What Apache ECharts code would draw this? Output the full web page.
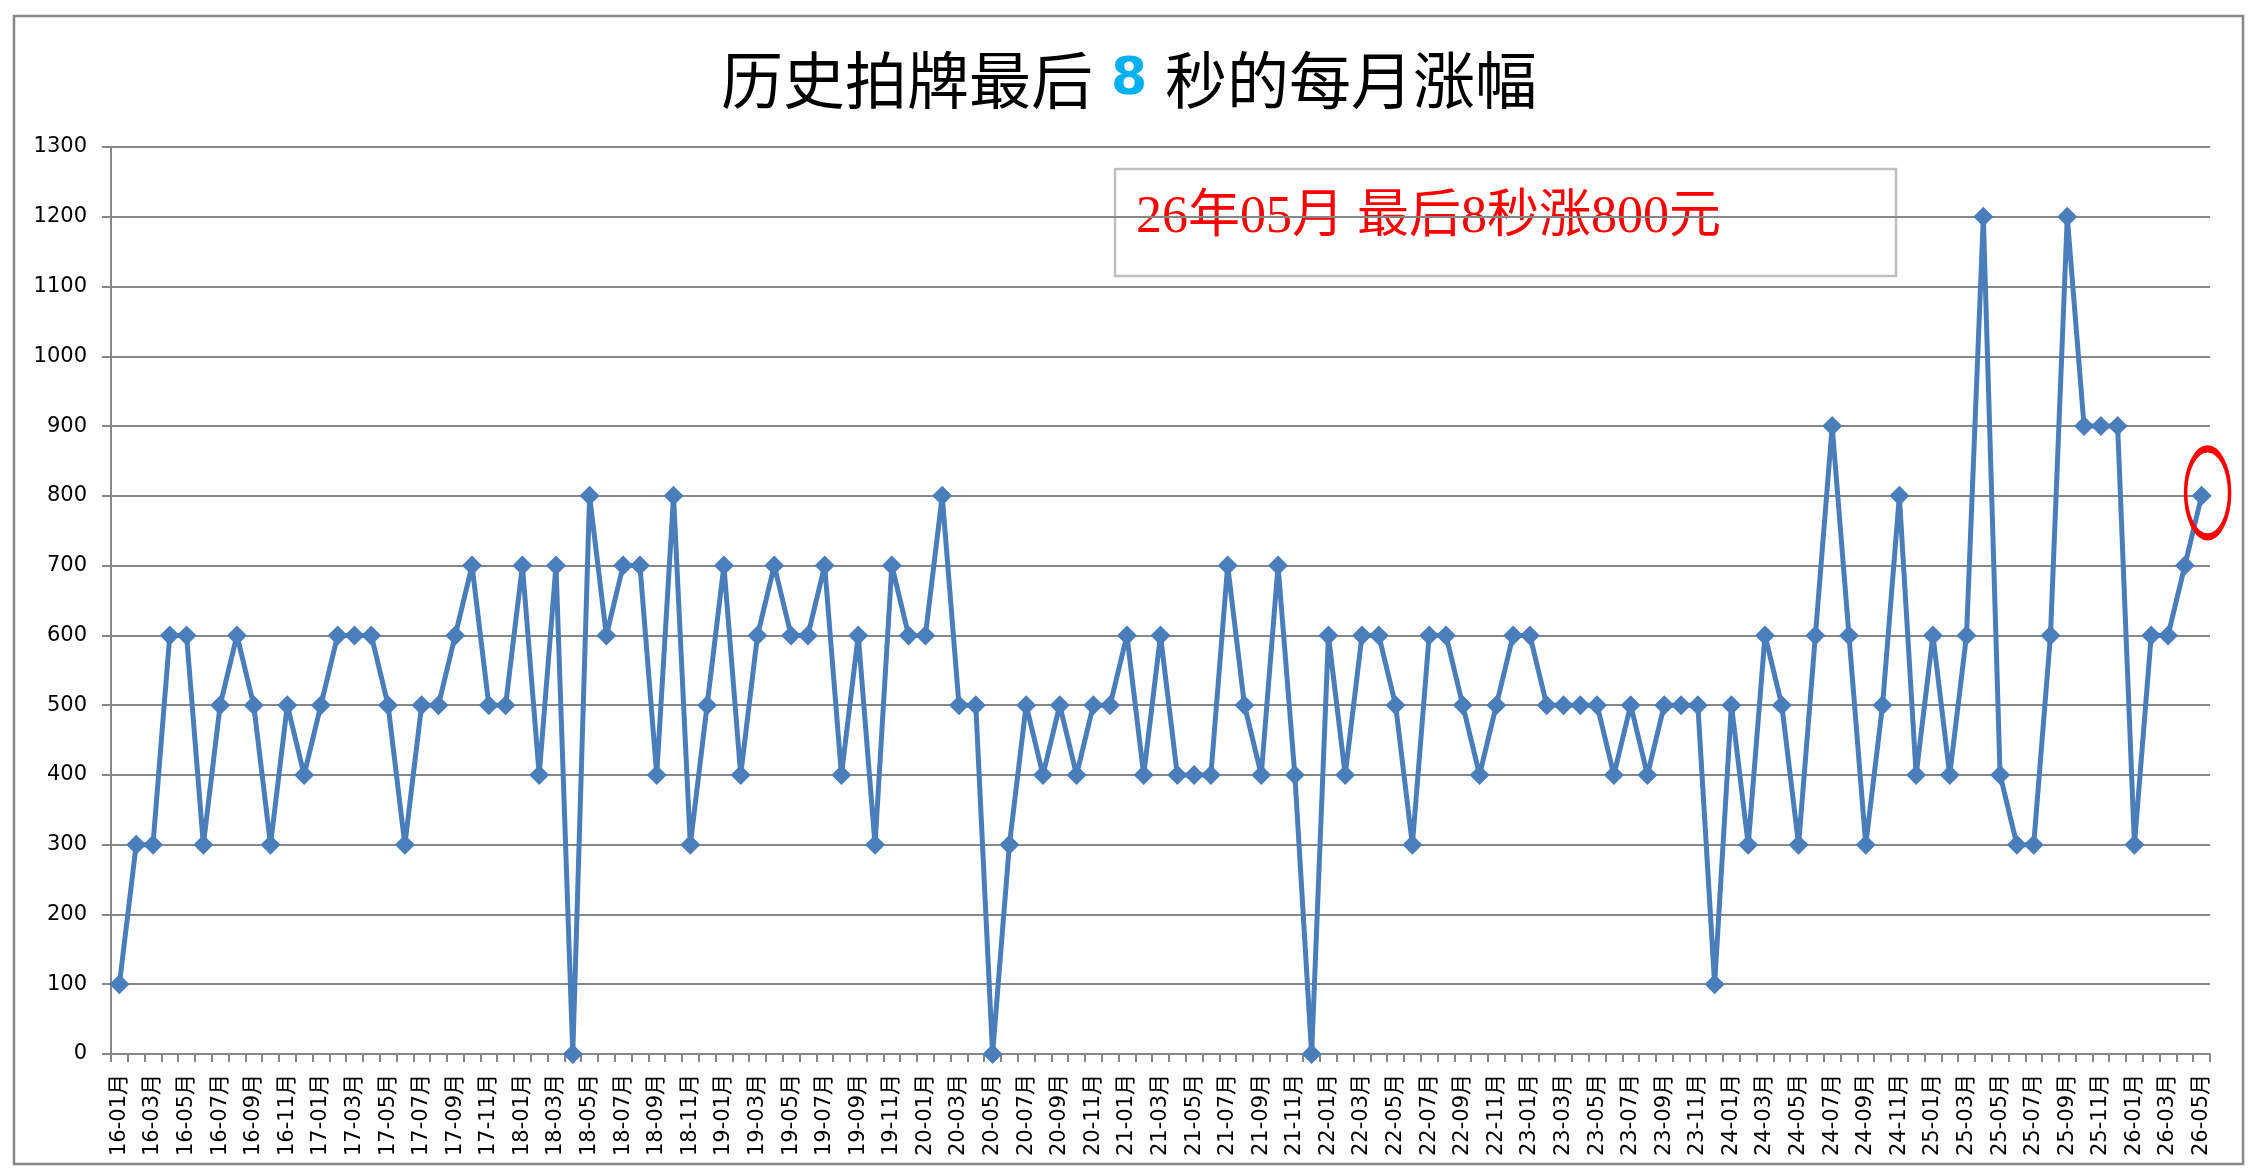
<!DOCTYPE html>
<html>
<head>
<meta charset="utf-8">
<title>历史拍牌最后8秒的每月涨幅</title>
<script src="https://cdn.jsdelivr.net/npm/echarts@6/dist/echarts.min.js"></script>
<style>
html, body { margin: 0; padding: 0; background: #fff; }
#chart { width: 2258px; height: 1176px; }
</style>
</head>
<body>
<div id="chart"></div>
<script>
// 年份 / 月份，用来拼横轴标签 "16-01月"
const years = ['16', '17', '18', '19', '20', '21', '22', '23', '24', '25', '26']
const months = ['01', '02', '03', '04', '05', '06', '07', '08', '09', '10', '11', '12']

// 每年各月最后8秒涨幅（元）
const v16 = [100, 300, 300, 600, 600, 300, 500, 600, 500, 300, 500, 400]
const v17 = [500, 600, 600, 600, 500, 300, 500, 500, 600, 700, 500, 500]
const v18 = [700, 400, 700, 0, 800, 600, 700, 700, 400, 800, 300, 500]
const v19 = [700, 400, 600, 700, 600, 600, 700, 400, 600, 300, 700, 600]
const v20 = [600, 800, 500, 500, 0, 300, 500, 400, 500, 400, 500, 500]
const v21 = [600, 400, 600, 400, 400, 400, 700, 500, 400, 700, 400, 0]
const v22 = [600, 400, 600, 600, 500, 300, 600, 600, 500, 400, 500, 600]
const v23 = [600, 500, 500, 500, 500, 400, 500, 400, 500, 500, 500, 100]
const v24 = [500, 300, 600, 500, 300, 600, 900, 600, 300, 500, 800, 400]
const v25 = [600, 400, 600, 1200, 400, 300, 300, 600, 1200, 900, 900, 900]
const v26 = [300, 600, 600, 700, 800]

const yTicks = { min: 0, max: 1300, step: 100 }
const noteText = '26年05月 最后8秒涨800元'

const valuesByYear = [v16, v17, v18, v19, v20, v21, v22, v23, v24, v25, v26]
let categories = []
let values = []
valuesByYear.forEach((arr, i) => {
  arr.forEach((v, m) => {
    categories.push(`${years[i]}-${months[m]}月`)
    values.push(v)
  })
})

const lastCat = categories[categories.length - 1]
const lastVal = values[values.length - 1]

const gray = '#878787'
const blue = '#4A7EBB'

let chart = echarts.init(document.getElementById('chart'))

let option = {
  backgroundColor: '#ffffff',
  animation: false,
  title: {
    left: 'center',
    top: 44,
    text: '{a|历史拍牌最后}{b|8}{a|秒的每月涨幅}',
    textStyle: {
      rich: {
        a: {
          fontSize: 62,
          fontFamily: '"Noto Sans CJK SC", sans-serif',
          color: '#000',
          fontWeight: 'normal'
        },
        b: {
          fontSize: 52,
          fontFamily: '"DejaVu Sans", sans-serif',
          fontWeight: 'bold',
          color: '#00B0F0',
          padding: [0, 18, 0, 18]
        }
      }
    }
  },
  grid: {
    left: 111,
    right: 48,
    top: 147,
    bottom: 122,
    containLabel: false
  },
  xAxis: {
    type: 'category',
    data: categories,
    boundaryGap: true,
    axisLine: { lineStyle: { color: gray, width: 2 } },
    axisTick: {
      show: true,
      interval: 0,
      length: 8,
      lineStyle: { color: gray, width: 2 }
    },
    axisLabel: {
      interval: 1,
      rotate: 90,
      margin: 20,
      fontSize: 21,
      fontFamily: '"DejaVu Sans", "Noto Sans CJK SC", sans-serif',
      color: '#000'
    },
    splitLine: { show: false }
  },
  yAxis: {
    type: 'value',
    min: yTicks.min,
    max: yTicks.max,
    interval: yTicks.step,
    axisLine: { show: true, lineStyle: { color: gray, width: 2 } },
    axisTick: { show: true, length: 9, lineStyle: { color: gray, width: 2 } },
    axisLabel: {
      margin: 24,
      fontSize: 21,
      fontFamily: '"DejaVu Sans", sans-serif',
      color: '#000',
      formatter: value => String(value)
    },
    splitLine: { lineStyle: { color: gray, width: 2 } }
  },
  series: [
    {
      name: '涨幅',
      type: 'line',
      data: values,
      symbol: 'diamond',
      symbolSize: 20,
      showAllSymbol: true,
      lineStyle: { color: blue, width: 5 },
      itemStyle: { color: blue },
      z: 3,
      markPoint: {
        silent: true,
        symbol: 'path://M50,0 A50,50 0 1,1 50,100 A50,50 0 1,1 50,0 Z',
        symbolSize: [44, 88],
        symbolOffset: [6, -3],
        label: { show: false },
        itemStyle: { color: 'rgba(0,0,0,0)', borderColor: '#FF0000', borderWidth: 5 },
        data: [{ coord: [lastCat, lastVal] }]
      }
    }
  ],
  graphic: [
    {
      type: 'rect',
      z: 0,
      silent: true,
      shape: { x: 14, y: 16, width: 2229, height: 1148 },
      style: { fill: 'none', stroke: gray, lineWidth: 2.5 }
    },
    {
      type: 'group',
      z: 10,
      children: [
        {
          type: 'rect',
          shape: { x: 1115, y: 169, width: 781, height: 107 },
          style: { fill: '#fff', stroke: '#BFBFBF', lineWidth: 2.5 }
        },
        {
          type: 'text',
          x: 1136,
          y: 218,
          style: {
            text: noteText,
            fill: '#FF0000',
            fontSize: 52,
            fontFamily: '"Liberation Serif", "Noto Sans CJK SC", serif',
            verticalAlign: 'middle',
            align: 'left'
          }
        }
      ]
    }
  ]
}

chart.setOption(option)
</script>
</body>
</html>
